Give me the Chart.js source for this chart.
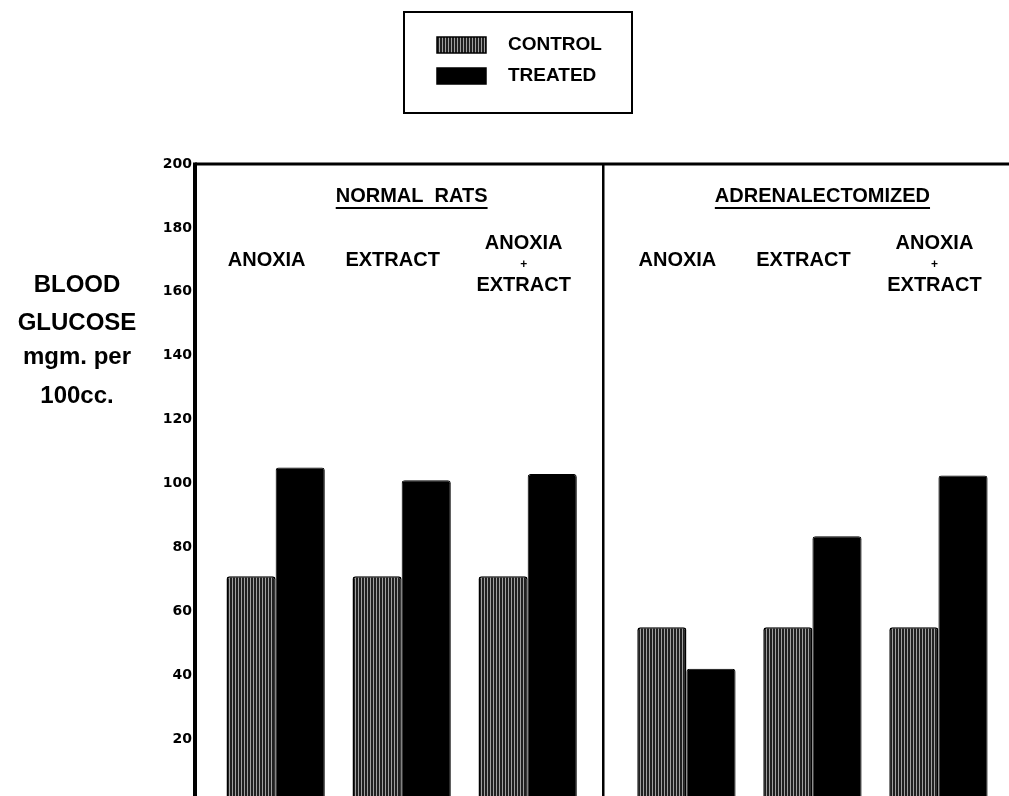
<!DOCTYPE html>
<html>
<head>
<meta charset="utf-8">
<title>Blood glucose</title>
<script src="https://cdn.jsdelivr.net/npm/chart.js@4.4.0/dist/chart.umd.min.js"></script>
<style>
  html, body { margin: 0; padding: 0; background: #fff; overflow: hidden; }
  #wrap { position: relative; width: 1009px; height: 830px; }
</style>
</head>
<body>
<div id="wrap"><canvas id="glucoseChart"></canvas></div>
<script>
// Données
const groups = ['NORMAL  RATS', 'ADRENALECTOMIZED'];
const treatments = ['ANOXIA', 'EXTRACT', ['ANOXIA', '+', 'EXTRACT'],
                    'ANOXIA', 'EXTRACT', ['ANOXIA', '+', 'EXTRACT']];
const seriesNames = ['CONTROL', 'TREATED'];
const controlValues = [71, 71, 71, 55, 55, 55];
const treatedValues = [105, 101, 103, 42, 83.5, 102.5];
const yTicks = [0, 20, 40, 60, 80, 100, 120, 140, 160, 180, 200];
const yTitle = ['BLOOD', 'GLUCOSE', 'mgm. per', '100cc.'];

// mise en page : écart supplémentaire entre les deux groupes
const groupGap = 0.26;
const slotX = i => i + (i >= 3 ? groupGap : 0);
const dividerX = 2.6;

const canvas = document.getElementById('glucoseChart');
const ctx = canvas.getContext('2d');

function stripes() {
  const c = document.createElement('canvas');
  c.width = 3; c.height = 4;
  const g = c.getContext('2d');
  g.fillStyle = '#202020'; g.fillRect(0, 0, 3, 4);
  g.fillStyle = '#a0a0a0'; g.fillRect(1, 0, 1, 4);
  return ctx.createPattern(c, 'repeat');
}
const controlFill = stripes();

const toPoints = vals => vals.map((v, i) => ({ x: slotX(i), y: v }));

const decorations = {
  id: 'decorations',
  afterDraw(chart) {
    const { ctx, chartArea: a, scales: { x } } = chart;
    ctx.save();
    ctx.fillStyle = '#000';
    ctx.strokeStyle = '#000';

    // cadre
    ctx.lineWidth = 4;
    ctx.beginPath(); ctx.moveTo(a.left, a.top - 1.5); ctx.lineTo(a.left, a.bottom); ctx.stroke();
    ctx.lineWidth = 3;
    ctx.beginPath(); ctx.moveTo(a.left, a.top); ctx.lineTo(a.right, a.top); ctx.stroke();
    const dx = x.getPixelForValue(dividerX);
    ctx.lineWidth = 2.5;
    ctx.beginPath(); ctx.moveTo(dx, a.top); ctx.lineTo(dx, a.bottom); ctx.stroke();

    // titres de groupe soulignés
    ctx.textAlign = 'center';
    ctx.textBaseline = 'middle';
    ctx.font = 'bold 20px "Liberation Sans"';
    groups.forEach((g, i) => {
      const cx = x.getPixelForValue(slotX(i * 3 + 1)) + 10;
      ctx.fillText(g, cx, a.top + 32);
      const w = ctx.measureText(g).width;
      ctx.fillRect(cx - w / 2, a.top + 43, w, 2);
    });

    // traitements
    treatments.forEach((t, i) => {
      const cx = x.getPixelForValue(slotX(i)) - 9;
      if (Array.isArray(t)) {
        ctx.font = 'bold 20px "Liberation Sans"';
        ctx.fillText(t[0], cx + 5, a.top + 79);
        ctx.font = 'bold 12px "Liberation Sans"';
        ctx.fillText(t[1], cx + 5, a.top + 101);
        ctx.font = 'bold 20px "Liberation Sans"';
        ctx.fillText(t[2], cx + 5, a.top + 121);
      } else {
        ctx.font = 'bold 20px "Liberation Sans"';
        ctx.fillText(t, cx, a.top + 96);
      }
    });

    // titre de l'axe
    ctx.textBaseline = 'alphabetic';
    ctx.font = 'bold 24px "Liberation Sans"';
    const titleY = [292, 330, 364, 403];
    yTitle.forEach((line, i) => ctx.fillText(line, 77, titleY[i]));

    // légende encadrée
    ctx.lineWidth = 2;
    ctx.strokeRect(404, 12, 228, 101);
    ctx.textAlign = 'left';
    ctx.textBaseline = 'middle';
    ctx.font = 'bold 19px "Liberation Sans"';
    chart.data.datasets.forEach((ds, i) => {
      const sy = 37 + i * 31;
      ctx.fillStyle = ds.backgroundColor;
      ctx.fillRect(437, sy, 49, 16);
      ctx.lineWidth = 1.5;
      ctx.strokeRect(437, sy, 49, 16);
      ctx.fillStyle = '#000';
      ctx.fillText(ds.label, 508, sy + 8);
    });
    ctx.restore();
  }
};

new Chart(ctx, {
  type: 'bar',
  data: {
    datasets: [
      {
        label: seriesNames[0],
        data: toPoints(controlValues),
        backgroundColor: controlFill,
        borderColor: '#000',
        borderWidth: 1.5,
        borderRadius: 3
      },
      {
        label: seriesNames[1],
        data: toPoints(treatedValues),
        backgroundColor: '#000',
        borderColor: '#000',
        borderWidth: 1,
        borderRadius: 3
      }
    ]
  },
  options: {
    responsive: true,
    maintainAspectRatio: false,
    animation: false,
    categoryPercentage: 0.78,
    barPercentage: 1.0,
    layout: { padding: { left: 155, top: 164, right: 0, bottom: 27 } },
    plugins: {
      legend: { display: false },
      tooltip: { enabled: false }
    },
    scales: {
      x: {
        type: 'linear',
        display: false,
        offset: false,
        min: -0.64,
        max: 5.82,
        afterBuildTicks: s => { s.ticks = treatments.map((t, i) => ({ value: slotX(i) })); }
      },
      y: {
        min: 0,
        max: 200,
        grid: { display: false, drawTicks: false },
        border: { display: false },
        afterBuildTicks: s => { s.ticks = yTicks.map(v => ({ value: v })); },
        afterFit: s => { s.width = 40; },
        ticks: {
          padding: 3,
          color: '#000',
          font: { family: '"DejaVu Sans"', weight: 'bold', size: 14 }
        }
      }
    }
  },
  plugins: [decorations]
});
</script>
</body>
</html>
